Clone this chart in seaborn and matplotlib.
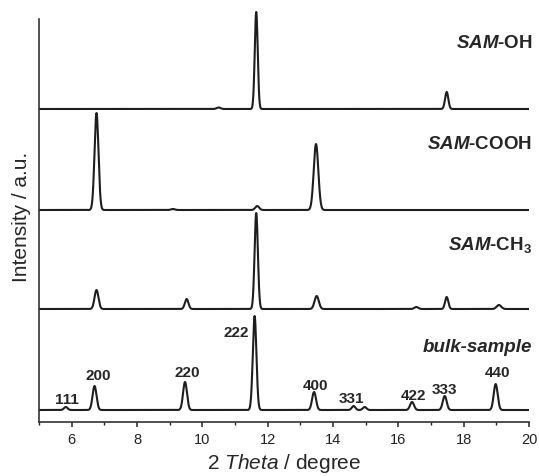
import numpy as np
import pandas as pd
import matplotlib
matplotlib.use("Agg")
import matplotlib.pyplot as plt
from matplotlib.ticker import MultipleLocator, NullFormatter
import seaborn as sns

# ---- data (peak centre in 2θ, height in a.u., width σ) ----
samples = ["bulk-sample", "SAM-CH3", "SAM-COOH", "SAM-OH"]
offsets = [12, 113, 212, 313]

bulk_pos = [5.82, 6.70, 9.47, 11.60, 13.42, 14.63, 14.97, 16.42, 17.42, 18.98]
bulk_hgt = [3, 24, 28, 94, 18, 4, 3, 8, 14, 26]
bulk_wid = [0.055, 0.06, 0.06, 0.055, 0.06, 0.055, 0.055, 0.06, 0.06, 0.06]

ch3_pos = [6.76, 9.52, 11.65, 13.50, 16.55, 17.48, 19.08]
ch3_hgt = [19, 10, 96, 13, 2, 12, 4]
ch3_wid = [0.06, 0.055, 0.05, 0.065, 0.06, 0.05, 0.07]

cooh_pos = [6.76, 9.10, 11.68, 13.48]
cooh_hgt = [97, 1, 4, 66]
cooh_wid = [0.06, 0.06, 0.06, 0.07]

oh_pos = [10.50, 11.65, 17.48]
oh_hgt = [1.5, 97, 17]
oh_wid = [0.06, 0.045, 0.05]

peak_tables = [
    (bulk_pos, bulk_hgt, bulk_wid),
    (ch3_pos, ch3_hgt, ch3_wid),
    (cooh_pos, cooh_hgt, cooh_wid),
    (oh_pos, oh_hgt, oh_wid),
]

hkl_labels = ["111", "200", "220", "222", "400", "331", "422", "333", "440"]
hkl_x = [5.85, 6.80, 9.55, 11.05, 13.45, 14.57, 16.45, 17.40, 19.03]
hkl_y = [23, 47, 50, 90, 37, 24, 27, 33, 50]

sample_titles = [r"bulk-sample", r"$\mathit{SAM}$-CH$_\mathrm{3}$",
                 r"$\mathit{SAM}$-COOH", r"$\mathit{SAM}$-OH"]
title_y = [76, 178, 279, 380]

# ---- build curves ----
two_theta = np.linspace(5, 20, 3001)
rows = []
for name, off, (pos, hgt, wid) in zip(samples, offsets, peak_tables):
    y = np.full_like(two_theta, float(off))
    for p, h, w in zip(pos, hgt, wid):
        y += h * np.exp(-0.5 * ((two_theta - p) / w) ** 2)
    rows.append(pd.DataFrame({"two_theta": two_theta, "intensity": y, "sample": name}))
df = pd.concat(rows, ignore_index=True)

# ---- style ----
sns.set_style("ticks")
plt.rcParams["font.family"] = ["Liberation Sans", "DejaVu Sans"]
plt.rcParams["mathtext.fontset"] = "custom"
plt.rcParams["mathtext.it"] = "Liberation Sans:italic:bold"
plt.rcParams["mathtext.rm"] = "Liberation Sans:bold"
plt.rcParams["mathtext.sf"] = "Liberation Sans:italic"
plt.rcParams["mathtext.bf"] = "Liberation Sans:bold"

fig = plt.figure(figsize=(5.39, 4.77), dpi=100)
ax = fig.add_axes([39 / 539, 54 / 477, 490 / 539, 412 / 477])

sns.lineplot(data=df, x="two_theta", y="intensity", hue="sample",
             palette=["#1e1e1e"] * 4, legend=False, linewidth=1.5,
             estimator=None, sort=False, ax=ax)

ax.set_xlim(5, 20)
ax.set_ylim(0, 412)
ax.xaxis.set_major_locator(MultipleLocator(2))
ax.xaxis.set_minor_locator(MultipleLocator(1))
ax.xaxis.set_minor_formatter(NullFormatter())
ax.set_yticks([])
ax.tick_params(axis="x", which="major", direction="out", length=3.5, width=1.1,
               labelsize=10.5, pad=4, colors="#222222")
ax.tick_params(axis="x", which="minor", direction="out", length=2, width=1.0,
               colors="#222222")
for s in ["top", "right"]:
    ax.spines[s].set_visible(False)
for s in ["left", "bottom"]:
    ax.spines[s].set_linewidth(1.2)
    ax.spines[s].set_color("#333333")
ax.spines["left"].set_bounds(0, 403)

ax.set_xlabel(r"2 $\mathsf{Theta}$ / degree", fontsize=15, labelpad=3)
ax.set_ylabel("Intensity / a.u.", fontsize=15, labelpad=6)

for lab, x, y in zip(hkl_labels, hkl_x, hkl_y):
    ax.text(x, y, lab, ha="center", va="center", fontsize=11, fontweight="bold")

for t, y in zip(sample_titles, title_y):
    if t == "bulk-sample":
        ax.text(20.1, y, t, ha="right", va="center", fontsize=13.5,
                fontweight="bold", fontstyle="italic", clip_on=False)
    else:
        ax.text(20.1, y, t, ha="right", va="center", fontsize=13.5,
                fontweight="bold", clip_on=False)

fig.savefig("out.png", dpi=100)
